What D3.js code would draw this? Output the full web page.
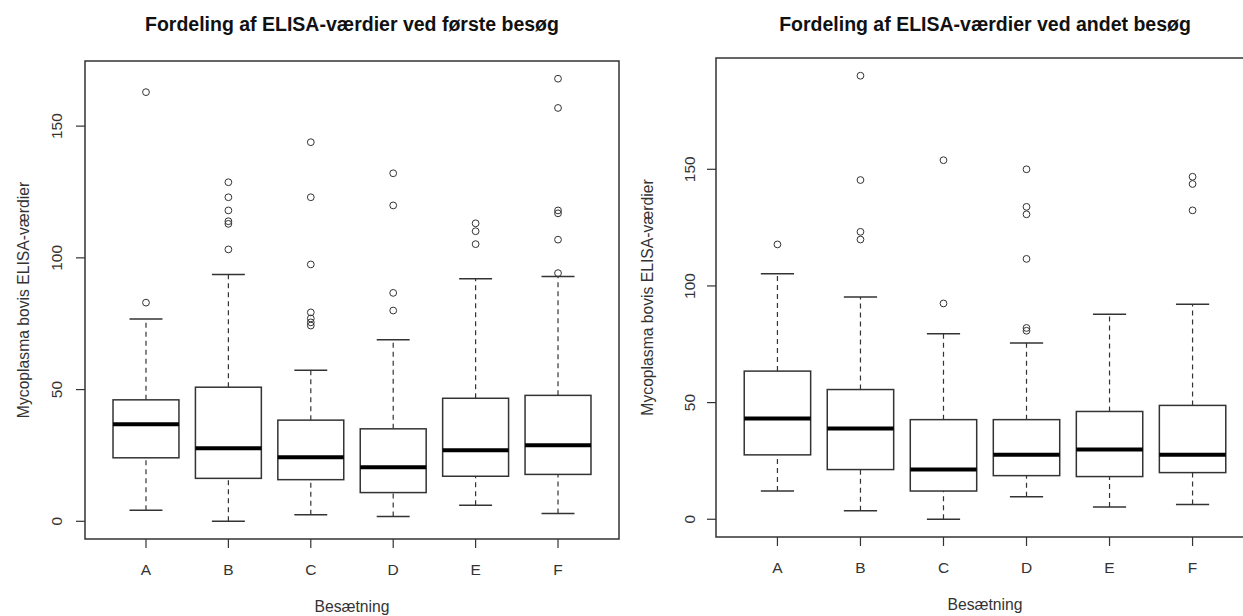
<!DOCTYPE html>
<html>
<head>
<meta charset="utf-8">
<script src="https://cdn.jsdelivr.net/npm/d3@7"></script>
<style>
  body { margin: 0; background: #fff; }
  svg { display: block; font-family: "Liberation Sans", Arial, sans-serif; }
</style>
</head>
<body>
<svg id="chart" width="1243" height="616"></svg>
<script>
const herds = ['A', 'B', 'C', 'D', 'E', 'F'];
const yTicks = [0, 50, 100, 150];

// [lower whisker, Q1, median, Q3, upper whisker]
const visit1Stats = [
    [4.2, 24.1, 36.8, 46.1, 76.8],
    [0, 16.3, 27.7, 50.9, 93.7],
    [2.5, 15.8, 24.3, 38.4, 57.3],
    [1.8, 10.9, 20.5, 35.1, 68.9],
    [6.1, 17.1, 27.0, 46.7, 92.1],
    [3.0, 17.8, 28.9, 47.8, 92.9],
];
const visit1Outliers = [
    [83, 162.9],
    [103.2, 112.9, 113.9, 118, 123, 128.7],
    [74.3, 75.5, 77, 79.3, 97.5, 123, 143.9],
    [80, 86.7, 119.9, 132.1],
    [105.2, 110.1, 113.1],
    [94.2, 106.9, 116.9, 118, 156.9, 168],
];

const visit2Stats = [
    [12.1, 27.6, 43.2, 63.5, 105.2],
    [3.6, 21.3, 38.9, 55.6, 95.3],
    [0, 12.1, 21.3, 42.7, 79.5],
    [9.7, 18.7, 27.7, 42.7, 75.6],
    [5.3, 18.3, 29.9, 46.2, 87.9],
    [6.3, 20.0, 27.7, 48.8, 92.2],
];
const visit2Outliers = [
    [117.8],
    [119.9, 123.2, 145.4, 190.1],
    [92.5, 153.9],
    [80.8, 82, 111.6, 130.7, 133.9, 150],
    [],
    [132.4, 143.7, 146.8],
];

const titles = [
    'Fordeling af ELISA-værdier ved første besøg',
    'Fordeling af ELISA-værdier ved andet besøg',
];
const xTitle = 'Besætning';
const yTitle = 'Mycoplasma bovis ELISA-værdier';

const svg = d3.select('#chart');

function drawPanel(p) {
    const { left, right, top, bottom } = p.frame;
    const g = svg.append('g');

    // R style: extend the data range by 4% on both sides
    const all = p.stats.flat().concat(p.outliers.flat());
    const [lo, hi] = d3.extent(all);
    const pad = (hi - lo) * 0.04;
    const y = d3.scaleLinear().domain([lo - pad, hi + pad]).range([bottom, top]);
    const x = d3.scaleLinear().domain([0.26, 6.74]).range([left, right]);
    const cx = (d, i) => x(i + 1);

    const boxes = g.selectAll('.box').data(p.stats).join('g').attr('class', 'box');

    // whiskers
    boxes.append('line')
        .attr('x1', cx).attr('x2', cx)
        .attr('y1', d => y(d[0])).attr('y2', d => y(d[1]))
        .attr('stroke', '#333').attr('stroke-width', 1.2).attr('stroke-dasharray', '5,4');
    boxes.append('line')
        .attr('x1', cx).attr('x2', cx)
        .attr('y1', d => y(d[3])).attr('y2', d => y(d[4]))
        .attr('stroke', '#333').attr('stroke-width', 1.2).attr('stroke-dasharray', '5,4');

    // whisker caps
    [0, 4].forEach(k => {
        boxes.append('line')
            .attr('x1', (d, i) => x(i + 0.8)).attr('x2', (d, i) => x(i + 1.2))
            .attr('y1', d => y(d[k])).attr('y2', d => y(d[k]))
            .attr('stroke', '#333').attr('stroke-width', 1.5);
    });

    boxes.append('rect')
        .attr('x', (d, i) => x(i + 0.6))
        .attr('width', x(1.4) - x(0.6))
        .attr('y', d => y(d[3]))
        .attr('height', d => y(d[1]) - y(d[3]))
        .attr('fill', '#fff')
        .attr('stroke', '#333').attr('stroke-width', 1.5);

    boxes.append('line')
        .attr('x1', (d, i) => x(i + 0.6)).attr('x2', (d, i) => x(i + 1.4))
        .attr('y1', d => y(d[2])).attr('y2', d => y(d[2]))
        .attr('stroke', '#000').attr('stroke-width', 4);

    // outliers
    p.outliers.forEach((vals, i) => {
        g.selectAll(null).data(vals).join('circle')
            .attr('cx', x(i + 1))
            .attr('cy', d => y(d))
            .attr('r', 3.4)
            .attr('fill', 'none')
            .attr('stroke', '#333')
            .attr('stroke-width', 1);
    });

    // frame
    g.append('rect')
        .attr('x', left).attr('y', top)
        .attr('width', right - left).attr('height', bottom - top)
        .attr('fill', 'none').attr('stroke', '#333').attr('stroke-width', 1.5);

    // x axis
    g.selectAll('.xtick').data(herds).join('line')
        .attr('x1', (d, i) => x(i + 1)).attr('x2', (d, i) => x(i + 1))
        .attr('y1', bottom).attr('y2', bottom + 9)
        .attr('stroke', '#333').attr('stroke-width', 1.2);
    g.selectAll('.xlab').data(herds).join('text')
        .attr('x', (d, i) => x(i + 1))
        .attr('y', bottom + 36)
        .attr('text-anchor', 'middle')
        .attr('font-size', 15.5)
        .attr('fill', '#333')
        .text(d => d);

    // y axis
    g.selectAll('.ytick').data(yTicks).join('line')
        .attr('x1', left - 9).attr('x2', left)
        .attr('y1', d => y(d)).attr('y2', d => y(d))
        .attr('stroke', '#333').attr('stroke-width', 1.2);
    g.selectAll('.ylab').data(yTicks).join('text')
        .attr('transform', d => `translate(${left - p.yTickOff},${y(d)}) rotate(-90)`)
        .attr('text-anchor', 'middle')
        .attr('font-size', 15.5)
        .attr('fill', '#333')
        .text(d => d);

    const midX = (left + right) / 2;
    const midY = (top + bottom) / 2;

    g.append('text')
        .attr('x', midX).attr('y', 31)
        .attr('text-anchor', 'middle')
        .attr('font-size', 19.5).attr('font-weight', 'bold')
        .attr('fill', '#111')
        .text(p.title);

    g.append('text')
        .attr('x', midX).attr('y', bottom + 73)
        .attr('text-anchor', 'middle')
        .attr('font-size', 15.7)
        .attr('fill', '#333')
        .text(xTitle);

    g.append('text')
        .attr('transform', `translate(${left - p.yTitleOff},${midY}) rotate(-90)`)
        .attr('text-anchor', 'middle')
        .attr('font-size', 15.7)
        .attr('fill', '#333')
        .text(yTitle);
}

drawPanel({
    frame: { left: 85, right: 619, top: 61, bottom: 539 },
    stats: visit1Stats, outliers: visit1Outliers, title: titles[0],
    yTickOff: 23, yTitleOff: 56,
});
drawPanel({
    frame: { left: 716, right: 1254, top: 58, bottom: 537 },
    stats: visit2Stats, outliers: visit2Outliers, title: titles[1],
    yTickOff: 21, yTitleOff: 63,
});
</script>
</body>
</html>
